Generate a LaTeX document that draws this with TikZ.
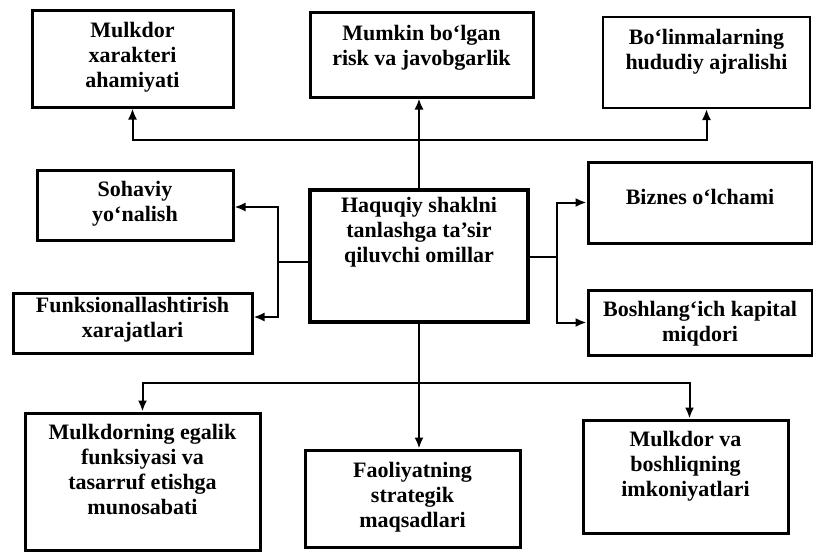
\documentclass[tikz,border=0pt]{standalone}
\usepackage{fontspec}
\setmainfont{Liberation Serif}
\usetikzlibrary{arrows.meta}

\begin{document}
\begin{tikzpicture}[x=1pt, y=-1pt,
    box/.style={draw, line width=3pt, inner sep=0pt},
    thinbox/.style={box, line width=2pt},
    lbl/.style={align=center, font=\bfseries\fontsize{22}{25}\selectfont, inner sep=0pt},
    link/.style={line width=2pt},
    arr/.style={link, -{Latex[length=11pt, width=9pt]}}]
      \useasboundingbox (0,0) rectangle (813,554);
      \node[box, minimum width=201pt, minimum height=97pt] (mulk) at (132.5, 58.5) {};
      \node[lbl] (mulkt) at (132.5, 57) {Mulkdor\\xarakteri\\ahamiyati};
      \node[box, minimum width=223pt, minimum height=85pt] (risk) at (421.5, 54.5) {};
      \node[lbl] (riskt) at (421.5, 48) {Mumkin bo‘lgan\\risk va javobgarlik};
      \node[thinbox, minimum width=207pt, minimum height=91pt] (hudud) at (706.5, 62.5) {};
      \node[lbl] (hududt) at (706.5, 52) {Bo‘linmalarning\\hududiy ajralishi};
      \node[box, minimum width=196pt, minimum height=70pt] (soha) at (135, 205) {};
      \node[lbl] (sohat) at (135, 204) {Sohaviy\\yo‘nalish};
      \node[box, line width=3.5pt, minimum width=218pt, minimum height=132pt] (omil) at (419, 256) {};
      \node[lbl] (omilt) at (419, 232) {Haquqiy shaklni\\tanlashga ta’sir\\qiluvchi omillar};
      \node[box, minimum width=239pt, minimum height=60pt] (funk) at (132.5, 323) {};
      \node[lbl] (funkt) at (132.5, 320) {Funksionallashtirish\\xarajatlari};
      \node[box, minimum width=224pt, minimum height=81pt] (biznes) at (700, 202.5) {};
      \node[lbl] (biznest) at (700, 197) {Biznes o‘lchami};
      \node[box, minimum width=224pt, minimum height=65pt] (kapital) at (700, 322.5) {};
      \node[lbl] (kapitalt) at (700, 324) {Boshlang‘ich kapital\\miqdori};
      \node[box, minimum width=235pt, minimum height=137pt] (egalik) at (142.5, 481.5) {};
      \node[lbl] (egalikt) at (142.5, 469) {Mulkdorning egalik\\funksiyasi va\\tasarruf etishga\\munosabati};
      \node[box, minimum width=215pt, minimum height=97pt] (maqsad) at (412.5, 498.5) {};
      \node[lbl] (maqsadt) at (412.5, 497) {Faoliyatning\\strategik\\maqsadlari};
      \node[box, minimum width=205pt, minimum height=113pt] (imkon) at (685.5, 476.5) {};
      \node[lbl] (imkont) at (685.5, 466) {Mulkdor va\\boshliqning\\imkoniyatlari};
      \coordinate (topj) at (419, 140);
      \coordinate (leftj) at (278, 262);
      \coordinate (rightj) at (557, 257);
      \coordinate (botj) at (419, 383);
      \draw[arr] (omil.north) -- (omil.north |- risk.south);
      \draw[arr] (topj) -| (mulk.south);
      \draw[arr] (topj) -| (hudud.south);
      \draw[link] (omil.west |- leftj) -- (leftj);
      \draw[arr] (leftj) |- ([yshift=-2pt]soha.east);
      \draw[arr] (leftj) |- ([yshift=6pt]funk.east);
      \draw[link] (omil.east |- rightj) -- (rightj);
      \draw[arr] (rightj) |- (biznes.west);
      \draw[arr] (rightj) |- (kapital.west);
      \draw[arr] (omil.south) -- (omil.south |- maqsad.north);
      \draw[arr] (botj) -| (egalik.north);
      \draw[arr] (botj) -| ([xshift=4pt]imkon.north);
\end{tikzpicture}
\end{document}
